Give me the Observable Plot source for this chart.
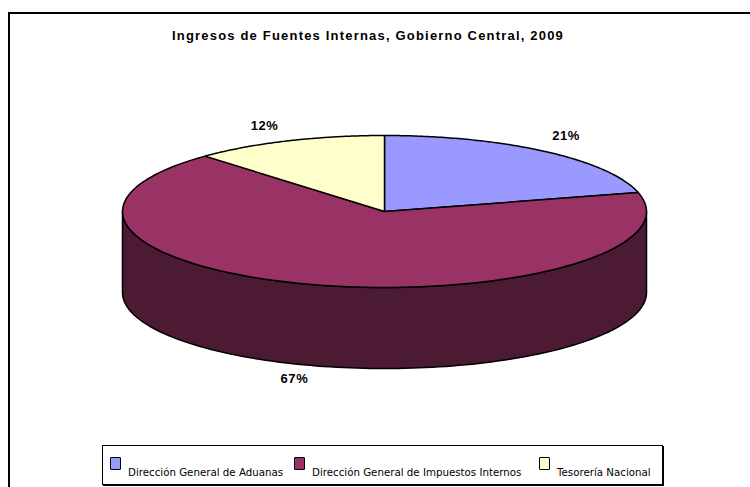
<!DOCTYPE html>
<html><head><meta charset="utf-8">
<script src="https://cdn.jsdelivr.net/npm/d3@7"></script>
<script src="https://cdn.jsdelivr.net/npm/@observablehq/plot@0.6"></script>
<style>
html,body{margin:0;padding:0;background:#fff}
#chart{position:relative;width:750px;height:487px;overflow:hidden}
#chart svg{position:absolute;left:0;top:0}
#chart svg text{letter-spacing:.6px}
#borderTop{position:absolute;left:8px;top:12px;width:742px;height:2px;background:#000}
#borderLeft{position:absolute;left:8px;top:12px;width:2px;height:475px;background:#000}
#title{position:absolute;left:-7px;width:750px;top:28px;text-align:center;font:bold 13px "Liberation Sans",Arial,sans-serif;letter-spacing:1.19px;color:#000}
#legend{position:absolute;left:102px;top:445px;width:561px;height:40px;border:1px solid #000;box-shadow:1px 1px 0 #000;box-sizing:border-box;background:#fff;font:10.25px "DejaVu Sans",Tahoma,sans-serif;color:#000}
#legend span.k{position:absolute;top:11px;width:9px;height:11px;border:1.5px solid #000;border-radius:1px}
#legend span.t{position:absolute;top:20px;white-space:nowrap}
</style></head><body>
<div id="chart"><div id="borderTop"></div><div id="borderLeft"></div><div id="title"></div><div id="legend"></div></div>
<script>
const titleText = "Ingresos de Fuentes Internas, Gobierno Central, 2009";
const categories = ["Dirección General de Aduanas","Dirección General de Impuestos Internos","Tesorería Nacional"];
const shares = [21, 67, 12];
const colors = ["#9999FF","#993366","#FFFFCC"];
const wallColor = "#4C1B33";

// presentation
const depth = 81/76;               // wall height, in units of the ellipse's vertical radius
const labelDx = [21,-17,-23.5], labelDy = [-16,94,-15];
const keyLeft = [7,191,436], textLeft = [25,209,454];

const total = d3.sum(shares);
let acc = 0;
const slices = shares.map((v,i)=>{
  const a0 = acc/total*2*Math.PI; acc += v; const a1 = acc/total*2*Math.PI;
  return {i, a0, a1, mid:(a0+a1)/2, label: v+"%"};
});
const P = (a,dz=0)=>({x:Math.sin(a), y:Math.cos(a)-dz});
const arc = (a0,a1,dz=0)=>d3.range(0,121).map(k=>P(a0+(a1-a0)*k/120,dz));

const topPolys = slices.flatMap(s=>[{x:0,y:0},...arc(s.a0,s.a1),{x:0,y:0}].map(p=>({...p,i:s.i,fill:colors[s.i]})));
const wall = [...arc(Math.PI/2,3*Math.PI/2), ...arc(3*Math.PI/2,Math.PI/2,depth)];
wall.push(wall[0]);

const plot = Plot.plot({
  width:750, height:487, margin:0,
  x:{domain:[-1,1], range:[122,646], axis:null},
  y:{domain:[-1,1], range:[287,135], axis:null},
  marks:[
    Plot.line(wall,{x:"x",y:"y",fill:wallColor,stroke:"#000",strokeWidth:1.5,curve:"linear"}),
    Plot.line(topPolys,{x:"x",y:"y",z:"i",fill:"fill",stroke:"#000",strokeWidth:1.5,curve:"linear",strokeLinejoin:"round"}),
    ...slices.map(s=>Plot.text([s],{
      x:d=>P(d.mid).x, y:d=>P(d.mid).y, text:"label",
      dx:labelDx[s.i], dy:labelDy[s.i],
      fontFamily:"Liberation Sans, Arial, sans-serif", fontWeight:"bold", fontSize:13, fill:"#000"
    }))
  ]
});
const root = document.getElementById("chart");
root.insertBefore(plot, root.firstChild);
document.getElementById("title").textContent = titleText;
const lg = document.getElementById("legend");
categories.forEach((c,i)=>{
  const k=document.createElement("span");k.className="k";k.style.left=keyLeft[i]+"px";k.style.background=colors[i];lg.appendChild(k);
  const t=document.createElement("span");t.className="t";t.textContent=c;t.style.left=textLeft[i]+"px";lg.appendChild(t);
});
</script>
</body></html>
